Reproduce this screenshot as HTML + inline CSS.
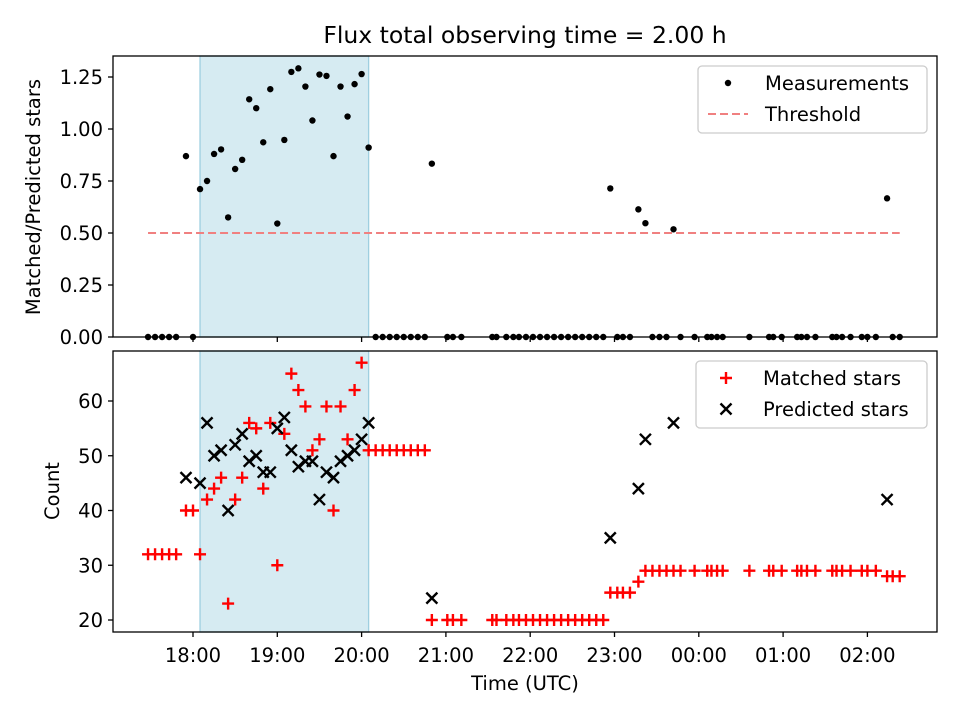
<!DOCTYPE html>
<html><head><meta charset="utf-8"><style>
body{margin:0;background:#fff;}
svg{display:block;font-family:"DejaVu Sans","Liberation Sans",sans-serif;}
</style></head><body>
<svg id="chart" width="960" height="720" viewBox="0 0 960 720"></svg>
<script>
// minutes after 18:00 UTC
const times = [-32,-27,-22,-17,-12,-5,0,5,10,15,20,25,30,35,40,45,50,55,60,65,70,75,80,85,90,95,100,105,110,115,120,125,
130,135,140,145,150,155,160,165,170,181,185,191,
213,216,223,228,232,237,242,247,252,257,262,267,272,277,282,287,292,
297,302,306,311,317,322,327,332,337,342,347,357,366,369,373,377,396,410,413,419,430,433,437,443,455,458,462,468,476,480,486,494,498,503];
const matched = [32,32,32,32,32,40,40,32,42,44,46,23,42,46,56,55,44,56,30,54,65,62,59,51,53,59,40,59,53,62,67,51,
51,51,51,51,51,51,51,51,20,20,20,20,
20,20,20,20,20,20,20,20,20,20,20,20,20,20,20,20,20,
25,25,25,25,27,29,29,29,29,29,29,29,29,29,29,29,29,29,29,29,29,29,29,29,29,29,29,29,29,29,29,28,28,28];
const predicted = [null,null,null,null,null,46,null,45,56,50,51,40,52,54,49,50,47,47,55,57,51,48,49,49,42,47,46,49,50,51,53,56,
null,null,null,null,null,null,null,null,24,null,null,null,
null,null,null,null,null,null,null,null,null,null,null,null,null,null,null,null,null,
35,null,null,null,44,53,null,null,null,56,null,null,null,null,null,null,null,null,null,null,null,null,null,null,null,null,null,null,null,null,null,42,null,null];
const threshold = 0.5;
const shadeRange = [5,125];
const xTickMins = [0,60,120,180,240,300,360,420,480];
const xTickLabels = ["18:00","19:00","20:00","21:00","22:00","23:00","00:00","01:00","02:00"];
const topTicks = [0,0.25,0.5,0.75,1.0,1.25];
const topTickLabels = ["0.00","0.25","0.50","0.75","1.00","1.25"];
const botTicks = [20,30,40,50,60];

const svg = document.getElementById('chart');
const NS = 'http://www.w3.org/2000/svg';
function el(tag, attrs, parent){const e=document.createElementNS(NS,tag);for(const k in attrs)e.setAttribute(k,attrs[k]);(parent||svg).appendChild(e);return e;}
const L=113,R=937,T1=56,B1=337,T2=351,B2=632;
const xS = m => 193 + m*84.3/60;
const yTop = v => B1 - v*208;
const yBot = v => 620 - (v-20)*5.475;

let t = el('text',{x:525,y:43,'text-anchor':'middle','font-size':'23.5'});
t.textContent='Flux total observing time = 2.00 h';



function panel(top,bottom,name){
  const g=el('g',{});
  
  
  const sh=el('rect',{x:xS(shadeRange[0]),y:top,width:xS(shadeRange[1])-xS(shadeRange[0]),height:bottom-top,fill:'#add8e6','fill-opacity':0.5,stroke:'#9fcfe0','stroke-width':1.3},g);
  
  
  return g;
}
const gTop=panel(T1,B1,'top-panel');
const gBot=panel(T2,B2,'bottom-panel');

const th=el('line',{x1:xS(times[0]),x2:xS(times[times.length-1]),y1:yTop(threshold),y2:yTop(threshold),stroke:'#f08080','stroke-width':2,'stroke-dasharray':'8,4'},gTop);



times.forEach((m,i)=>{
  const r = predicted[i]? matched[i]/predicted[i] : 0;
  const c=el('circle',{cx:xS(m),cy:yTop(r),r:3.2,fill:'#000'},gTop);
  
  
});
times.forEach((m,i)=>{
  const x=xS(m), y=yBot(matched[i]);
  const p=el('path',{d:`M${x-6},${y}H${x+6}M${x},${y-6}V${y+6}`,stroke:'#ff0000','stroke-width':2.4},gBot);
  
  
});
times.forEach((m,i)=>{
  if(predicted[i]==null) return;
  const x=xS(m), y=yBot(predicted[i]);
  const p=el('path',{d:`M${x-5.5},${y-5.5}L${x+5.5},${y+5.5}M${x-5.5},${y+5.5}L${x+5.5},${y-5.5}`,stroke:'#000','stroke-width':2.4},gBot);
  
  
});

[[T1,B1],[T2,B2]].forEach(([a,b],pi)=>{
  const f=el('rect',{x:L,y:a,width:R-L,height:b-a,fill:'none',stroke:'#000','stroke-width':1.3});
  
  
  xTickMins.forEach((m,i)=>{
    el('line',{x1:xS(m),x2:xS(m),y1:b,y2:b+5,stroke:'#000','stroke-width':1.3});
    if(pi){const tx=el('text',{x:xS(m),y:b+30,'text-anchor':'middle','font-size':'19.5'});
      tx.textContent=xTickLabels[i];
      
      }
  });
});
topTicks.forEach((v,i)=>{
  el('line',{x1:L-5,x2:L,y1:yTop(v),y2:yTop(v),stroke:'#000','stroke-width':1.3});
  const tx=el('text',{x:L-10,y:yTop(v)+7,'text-anchor':'end','font-size':'19.5'});
  tx.textContent=topTickLabels[i];
  
  
});
botTicks.forEach(v=>{
  el('line',{x1:L-5,x2:L,y1:yBot(v),y2:yBot(v),stroke:'#000','stroke-width':1.3});
  const tx=el('text',{x:L-10,y:yBot(v)+7,'text-anchor':'end','font-size':'19.5'});
  tx.textContent=String(v);
  
  
});
let yl=el('text',{transform:'translate(40,197) rotate(-90)','text-anchor':'middle','font-size':'19.5'});
yl.textContent='Matched/Predicted stars';


yl=el('text',{transform:'translate(59,491) rotate(-90)','text-anchor':'middle','font-size':'19.5'});
yl.textContent='Count';


let xl=el('text',{x:525,y:690,'text-anchor':'middle','font-size':'19.5'});
xl.textContent='Time (UTC)';



function legend(x,y,w,name,items){
  const g=el('g',{});
  
  
  el('rect',{x:x,y:y,width:w,height:67,rx:4,fill:'#fff','fill-opacity':0.8,stroke:'#ccc','stroke-width':1.3},g);
  items.forEach((it,i)=>{
    const cy=y+17+i*31, cx=x+30;
    if(it.k==='dot') el('circle',{cx:cx,cy:cy,r:3.2,fill:'#000'},g);
    if(it.k==='dash') el('line',{x1:cx-20,x2:cx+20,y1:cy,y2:cy,stroke:'#f08080','stroke-width':2,'stroke-dasharray':'8,4'},g);
    if(it.k==='plus') el('path',{d:`M${cx-6},${cy}H${cx+6}M${cx},${cy-6}V${cy+6}`,stroke:'#f00','stroke-width':2.4},g);
    if(it.k==='x') el('path',{d:`M${cx-5.5},${cy-5.5}L${cx+5.5},${cy+5.5}M${cx-5.5},${cy+5.5}L${cx+5.5},${cy-5.5}`,stroke:'#000','stroke-width':2.4},g);
    const tx=el('text',{x:x+67,y:cy+7,'font-size':'19.5'},g);
    tx.textContent=it.t;
    
    
  });
}
legend(698,66,229,'top-legend',[{k:'dot',t:'Measurements'},{k:'dash',t:'Threshold'}]);
legend(696,361,231,'bottom-legend',[{k:'plus',t:'Matched stars'},{k:'x',t:'Predicted stars'}]);
</script>
</body></html>
